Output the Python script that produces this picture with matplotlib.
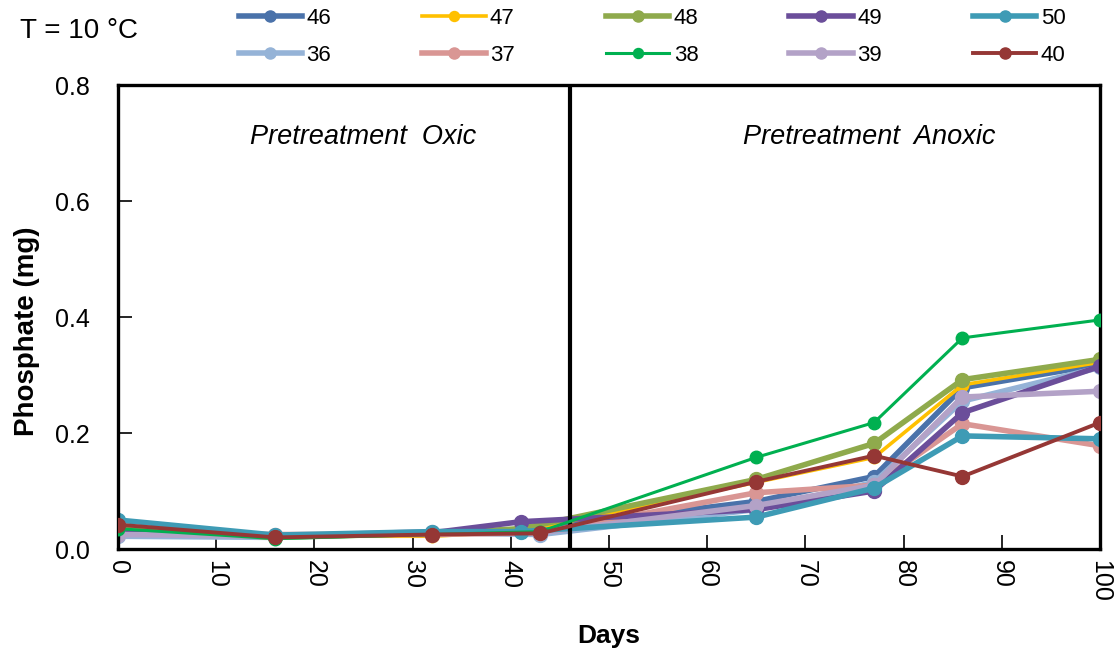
import matplotlib
matplotlib.use("Agg")
import matplotlib.pyplot as plt

plt.rcParams["font.family"] = ["Liberation Sans", "DejaVu Sans"]

# sampling days (two batches of cores)
days_a = [0, 16, 32, 41, 65, 77, 86, 100]
days_b = [0, 16, 32, 43, 65, 77, 86, 100]

# phosphate (mg) per core
p46 = [0.030, 0.022, 0.027, 0.033, 0.082, 0.125, 0.278, 0.318]
p47 = [0.030, 0.022, 0.022, 0.030, 0.115, 0.158, 0.283, 0.322]
p48 = [0.035, 0.020, 0.027, 0.035, 0.120, 0.182, 0.292, 0.327]
p49 = [0.030, 0.022, 0.028, 0.047, 0.068, 0.100, 0.235, 0.315]
p50 = [0.050, 0.024, 0.030, 0.030, 0.055, 0.105, 0.195, 0.190]
p36 = [0.022, 0.020, 0.028, 0.025, 0.068, 0.115, 0.255, 0.313]
p37 = [0.030, 0.025, 0.025, 0.028, 0.097, 0.110, 0.216, 0.178]
p38 = [0.035, 0.018, 0.025, 0.030, 0.158, 0.218, 0.364, 0.395]
p39 = [0.025, 0.022, 0.030, 0.028, 0.075, 0.110, 0.262, 0.272]
p40 = [0.042, 0.020, 0.025, 0.027, 0.116, 0.161, 0.125, 0.218]

# (label, days, values, colour, linewidth, markersize)
series = [
    ("46", days_a, p46, "#4A72AA", 4.0, 10),
    ("36", days_b, p36, "#95B3D7", 4.0, 10),
    ("47", days_a, p47, "#FFC000", 2.6, 9),
    ("37", days_b, p37, "#D99694", 4.0, 10),
    ("48", days_a, p48, "#8FAA4C", 4.0, 10),
    ("38", days_b, p38, "#00B050", 2.2, 9),
    ("49", days_a, p49, "#6B4E9A", 4.0, 10),
    ("39", days_b, p39, "#B3A2C7", 4.0, 10),
    ("50", days_a, p50, "#3E9BB5", 4.0, 10),
    ("40", days_b, p40, "#953735", 2.8, 10),
]

fig = plt.figure(figsize=(11.15, 6.56), dpi=100)
ax = fig.add_axes([0.1058, 0.1631, 0.8807, 0.7073])

handles = []
for label, d, v, c, lw, ms in series:
    (h,) = ax.plot(d, v, color=c, lw=lw, marker="o", ms=ms, label=label)
    handles.append(h)

# thin lines go on top
for h in handles:
    if h.get_label() in ("38", "40"):
        h.set_zorder(3)

ax.axvline(46, color="black", lw=3)

ax.set_xlim(0, 100)
ax.set_ylim(0, 0.8)
ax.set_xticks(range(0, 101, 10))
ax.set_yticks([0.0, 0.2, 0.4, 0.6, 0.8])
ax.set_yticklabels(["0.0", "0.2", "0.4", "0.6", "0.8"])
ax.tick_params(axis="both", direction="in", length=10, width=1.2,
               labelsize=18, top=False, right=False)
ax.tick_params(axis="y", pad=20)
ax.tick_params(axis="x", pad=8)
for t in ax.get_xticklabels():
    t.set_rotation(-90)
    t.set_va("top")
for s in ax.spines.values():
    s.set_linewidth(2.4)

ax.set_xlabel("Days", fontsize=19, fontweight="bold", labelpad=16)
ax.set_ylabel("Phosphate (mg)", fontsize=20, fontweight="bold")
ax.yaxis.set_label_coords(-0.079, 0.47)

ax.text(25, 0.71, "Pretreatment  Oxic", style="italic", fontsize=19.5,
        ha="center", va="center")
ax.text(76.5, 0.71, "Pretreatment  Anoxic", style="italic", fontsize=19.5,
        ha="center", va="center")

fig.text(0.018, 0.953, "T = 10 °C", fontsize=20, ha="left", va="center")

fig.legend(handles=handles, ncol=5, loc="center left",
           bbox_to_anchor=(0.206, 0.944), frameon=False, fontsize=16,
           handlelength=2.85, handletextpad=0.2, columnspacing=4.1,
           labelspacing=0.72, borderaxespad=0, markerscale=0.8)

fig.savefig("out.png", dpi=100)
